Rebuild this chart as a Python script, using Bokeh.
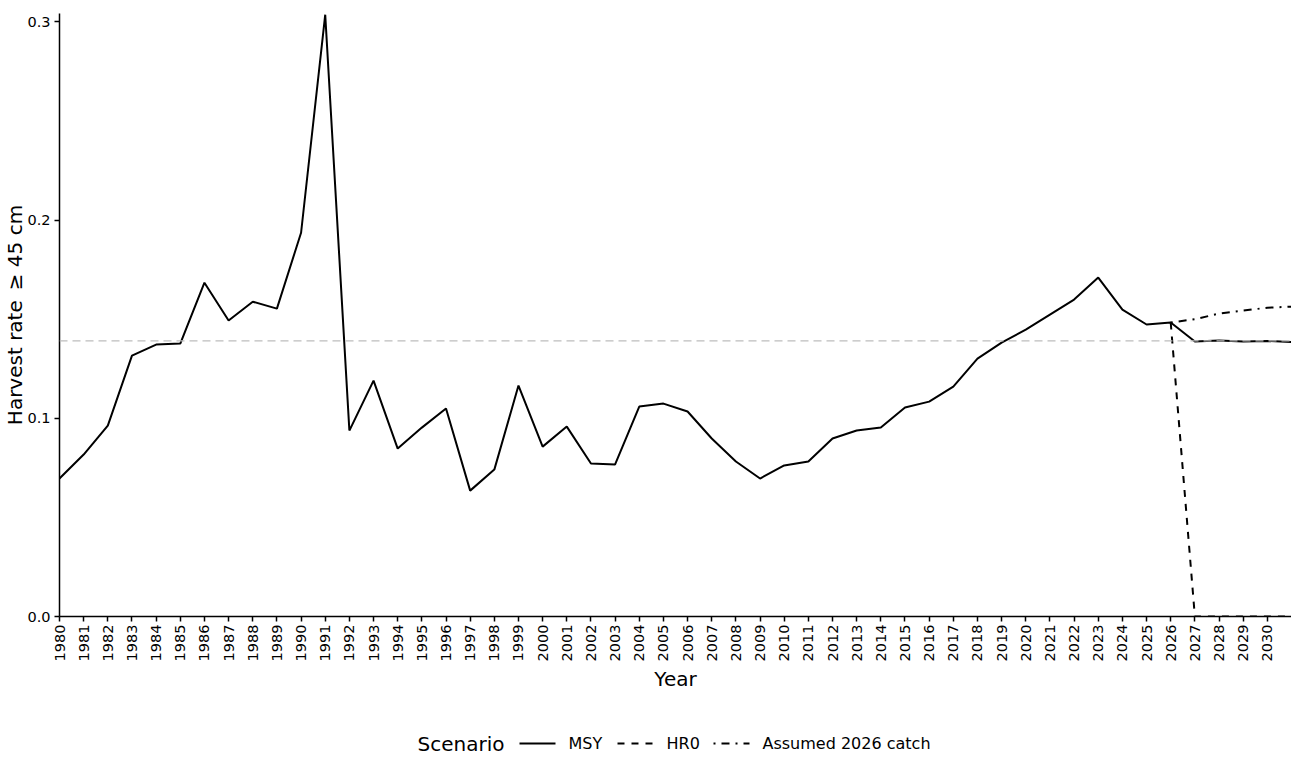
from bokeh.plotting import figure
from bokeh.layouts import column
from bokeh.models import Range1d, FixedTicker, Span, PrintfTickFormatter
from bokeh.core.properties import value
from bokeh.embed import file_html
from bokeh.resources import INLINE

# Harvest rate (fish >= 45 cm), historic period
years_hist = list(range(1980, 2027))
hr_hist = [0.0696, 0.0817, 0.0963, 0.1316, 0.1372, 0.1377, 0.1684, 0.1493,
           0.1588, 0.1553, 0.1936, 0.3036, 0.0938, 0.1190, 0.0847, 0.0953,
           0.1049, 0.0635, 0.0741, 0.1165, 0.0857, 0.0958, 0.0772, 0.0767,
           0.1059, 0.1074, 0.1034, 0.0898, 0.0782, 0.0696, 0.0762, 0.0782,
           0.0898, 0.0938, 0.0953, 0.1054, 0.1084, 0.1160, 0.1301, 0.1382,
           0.1447, 0.1523, 0.1599, 0.1710, 0.1548, 0.1473, 0.1483]

# Projection scenarios, starting from the last historic year
years_proj = [2026, 2027, 2028, 2029, 2030, 2031]
hr_msy = [0.1483, 0.1387, 0.1392, 0.1387, 0.1390, 0.1385]
hr_zero = [0.1483, 0.0, 0.0, 0.0, 0.0, 0.0]
hr_catch = [0.1483, 0.1500, 0.1528, 0.1543, 0.1558, 0.1563]

scenario_names = ["MSY", "HR0", "Assumed 2026 catch"]
scenario_dash = ["solid", "7 7", "2 6 8 6"]

hr_msy_ref = 0.139
tick_years = list(range(1980, 2031))

FONT = "DejaVu Sans"

# ---- main panel ----
p = figure(width=1291, height=700,
           x_range=Range1d(1980, 2031), y_range=Range1d(0, 0.3042),
           output_backend="svg", toolbar_location=None,
           min_border_left=59, min_border_right=0, min_border_top=13,
           min_border_bottom=84)
p.outline_line_color = None
p.xgrid.visible = False
p.ygrid.visible = False
p.background_fill_color = "white"
p.border_fill_color = "white"

p.add_layout(Span(location=hr_msy_ref, dimension="width", line_color="#bdbdbd",
                  line_dash="8 5", line_width=1.2))

p.line(years_hist + years_proj[1:], hr_hist + hr_msy[1:],
       line_color="black", line_width=2, line_dash=scenario_dash[0])
p.line(years_proj, hr_zero, line_color="black", line_width=2,
       line_dash=scenario_dash[1])
p.line(years_proj, hr_catch, line_color="black", line_width=2,
       line_dash=scenario_dash[2])

for ax in (p.xaxis[0], p.yaxis[0]):
    ax.axis_line_color = "black"
    ax.axis_line_width = 1.5
    ax.major_tick_line_color = "black"
    ax.major_tick_line_width = 1.5
    ax.major_tick_in = 0
    ax.major_tick_out = 5
    ax.minor_tick_line_color = None
    ax.major_label_text_font = FONT
    ax.major_label_text_font_size = "14.5px"
    ax.major_label_text_color = "black"
    ax.axis_label_text_font = FONT
    ax.axis_label_text_font_size = "20px"
    ax.axis_label_text_font_style = "normal"
    ax.axis_label_text_color = "black"

p.xaxis.ticker = FixedTicker(ticks=tick_years)
p.xaxis.formatter = PrintfTickFormatter(format="%d")
p.xaxis.major_label_orientation = 3.14159265 / 2
p.xaxis.axis_label = "Year"
p.xaxis.major_label_standoff = 3
p.xaxis.axis_label_standoff = 3

p.yaxis.ticker = FixedTicker(ticks=[0.0, 0.1, 0.2, 0.3])
p.yaxis.formatter = PrintfTickFormatter(format="%.1f")
p.yaxis.axis_label = "Harvest rate\u2002\u2265 45 cm"
p.yaxis.major_label_standoff = 4
p.yaxis.axis_label_standoff = -3

# ---- legend strip under the chart; x runs in pixels from the frame edge ----
leg = figure(width=1291, height=75, x_range=Range1d(59, 1291),
             y_range=Range1d(0, 75), output_backend="svg",
             toolbar_location=None, x_axis_type=None, y_axis_type=None,
             min_border_left=0, min_border_right=0, min_border_top=0,
             min_border_bottom=0)
leg.outline_line_color = None
leg.xgrid.visible = False
leg.ygrid.visible = False

row_y = 32
key_start = [519, 617, 713]
key_len = 36
text_gap = 13

leg.text(x=[417], y=[row_y], text=["Scenario"], text_font=value(FONT),
         text_font_size="20px", text_baseline="middle", text_align="left",
         text_color="black")
for name, dash, x0 in zip(scenario_names, scenario_dash, key_start):
    leg.segment(x0=[x0], y0=[row_y], x1=[x0 + key_len], y1=[row_y],
                line_color="black", line_width=2, line_dash=dash)
    leg.text(x=[x0 + key_len + text_gap], y=[row_y], text=[name],
             text_font=value(FONT), text_font_size="16px",
             text_baseline="middle", text_align="left", text_color="black")

layout = column(p, leg, spacing=0)
open("out.html", "w").write(file_html(layout, INLINE))
